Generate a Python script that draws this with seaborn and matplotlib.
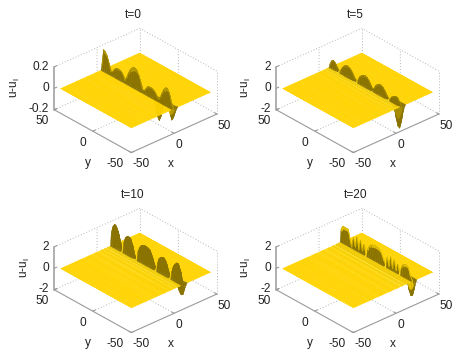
import numpy as np
import matplotlib
matplotlib.use("Agg")
import matplotlib.pyplot as plt
import seaborn as sns

sns.set_style("white")
plt.rcParams["font.family"] = ["Liberation Sans", "DejaVu Sans"]
plt.rcParams["mathtext.fontset"] = "custom"
plt.rcParams["mathtext.rm"] = "Liberation Sans"

W, H = 457, 353

titles = ["t=0", "t=5", "t=10", "t=20"]
z_max = [0.2, 2, 2, 2]
z_labels = [["-0.2", "0", "0.2"], ["-2", "0", "2"], ["-2", "0", "2"], ["-2", "0", "2"]]
xy_labels = ["-50", "0", "50"]
front_x = [2, 9, 13, 22]
rear_colours = ["#B89B00", "#A88E00", "#8A7300", "#E6C200"]

# along the front, y=46 .. y=-46
y_nodes = [46, 43.7, 41.4, 39.1, 36.8, 34.5, 32.2, 29.9, 27.6, 25.3, 23, 20.7, 18.4, 16.1,
           13.8, 11.5, 9.2, 6.9, 4.6, 2.3, 0, -2.3, -4.6, -6.9, -9.2, -11.5, -13.8, -16.1,
           -18.4, -20.7, -23, -25.3, -27.6, -29.9, -32.2, -34.5, -36.8, -39.1, -41.4, -43.7, -46]

hump_t0 = [.05, .2, .19, .16, .1, .03, .04, .07, .09, .095, .095, .09, .06, .02, .06, .11, .15, .175, .19, .19,
           .175, .14, .08, .02, .03, .06, .085, .09, .09, .085, .07, .04, .02, .05, .1, .14, .165, .17, .14, .06, .02]
hump_t5 = [.3, .7, .85, .7, .35, .05, .25, .6, .85, 1.0, 1.05, 1.0, .85, .55, .2, .05, .35, .7, .9, 1.0,
           1.05, 1.0, .8, .45, .08, .35, .7, .9, 1.0, 1.0, .9, .65, .3, .05, .2, .45, .6, .7, .7, .4, .05]
hump_t10 = [1.2, 1.9, 2.2, 2.1, 1.7, .9, .05, .9, 1.5, 1.7, 1.75, 1.7, 1.2, .3, .05, .8, 1.3, 1.6, 1.7, 1.75,
            1.75, 1.7, 1.6, 1.2, .6, .05, .7, 1.3, 1.5, 1.6, 1.6, 1.35, .7, .05, .6, 1.3, 1.6, 1.8, 1.8, 1.3, .2]
hump_t20 = [1.2, 1.6, 1.6, 1.6, 1.6, .7, .1, 1.1, .3, 1.3, .2, 1.2, .3, 1.0, .05, .7, 1.1, 1.3, 1.4, 1.45,
            1.45, 1.4, 1.3, 1.0, .5, .05, 1.0, .2, 1.2, .2, 1.1, .2, .9, .05, .8, 1.1, 1.25, 1.25, 1.1, .4, .05]
heights = [hump_t0, hump_t5, hump_t10, hump_t20]

dip_t0 = [0] * 29 + [-.1, -.17, -.2, -.15, -.05, 0, 0, 0, -.08, -.13, -.1, -.04]
dip_t5 = [0] * 33 + [-.2, -.4, -.8, -1.6, -2.2, -2.3, -1.6, -.5]
dip_t10 = [0] * 33 + [0, 0, -.2, -.6, -1.0, -1.2, -1.1, -.5]
dip_t20 = [0] * 33 + [0, 0, 0, -.5, -1.2, -1.6, -1.5, -.8]
dips = [dip_t0, dip_t5, dip_t10, dip_t20]

# across the front, distance from the front
x_rel = [-100, -80, -60, -50, -42, -36, -30, -25, -21, -17, -14, -11, -9, -7, -5, -4, -3, -2, -1, 0,
         1, 2, 3, 4, 6, 9, 13, 18, 24, 32, 42, 60, 80, 100]
wall_up = [0] * 19 + [1, .8, 0, 0, 0] + [0] * 10
wall_dn = [0] * 21 + [.6, 1, .6, 0] + [0] * 9
wake_t0 = [0] * 34
wake_t5 = [0] * 10 + [-.004, .004, -.006, .006, -.01, .01, -.016, .012, 0, 0] + [0] * 14
wake_t10 = [0, 0, 0, 0, 0, .002, -.002, .004, -.004, .006, -.006, .008, -.008, .01, -.016, .016, -.02, .016, 0, 0] + [0] * 14
wake_t20 = [.002, -.002, .002, -.002, .004, -.004, .004, -.006, .006, -.006, .008, -.01, .012, -.016, .02, -.024, .03, -.04, .03, 0] + [0] * 14
wakes = [wake_t0, wake_t5, wake_t10, wake_t20]

# axes centre in pixels, pixel places of the labels relative to that
centres = [(133, 93), (355, 93), (133, 273), (355, 273)]
u_label_x = [15, 246, 25, 246]
z_label_right = [49, 271, 49, 271]

surface_cmap = sns.blend_palette(["#FFE93A", "#FFD400", "#EFC800"], as_cmap=True)
wall_colour = matplotlib.colors.to_rgba("#8A7300")
box_grey = "#9a9a9a"

fig = plt.figure(figsize=(W / 100, H / 100), dpi=100)


def put(x, y, s, **kw):
    kw.setdefault("ha", "center")
    fig.text(x / W, 1 - y / H, s, va="center", fontsize=8.6, color="#222222", **kw)


for k in range(4):
    cx, cy = centres[k]
    ax = fig.add_axes([(cx - 110) / W, 1 - (cy + 95) / H, 220 / W, 190 / H], projection="3d", proj_type="ortho")
    ax.computed_zorder = False
    ax.view_init(elev=30, azim=-132)
    ax.set_box_aspect((1, 1, 0.43), zoom=0.87)
    ax.set_xlim(-50, 50)
    ax.set_ylim(-50, 50)
    zm = z_max[k]
    ax.set_zlim(-zm, zm)
    ax.set_axis_off()
    ax.patch.set_alpha(0)

    # box
    solid = dict(color=box_grey, lw=0.8, zorder=1)
    dotted = dict(color="#b5b5b5", lw=0.7, ls=(0, (1, 2)), zorder=1)
    ax.plot([-50, -50, 50], [50, -50, -50], [-zm, -zm, -zm], **solid)
    ax.plot([-50, -50], [50, 50], [-zm, zm], color=box_grey, lw=1.1, zorder=1)
    ax.plot([-50, 50, 50], [50, 50, -50], [-zm, -zm, -zm], **dotted)
    ax.plot([-50, 50, 50], [50, 50, -50], [zm, zm, zm], **dotted)
    ax.plot([50, 50], [50, 50], [-zm, zm], **dotted)
    ax.plot([50, 50], [-50, -50], [-zm, zm], **dotted)
    ax.plot([0, 0, 0], [-50, 50, 50], [-zm, -zm, zm], **dotted)
    ax.plot([-50, 50, 50], [0, 0, 0], [-zm, -zm, zm], **dotted)
    for t in [-50, 0, 50]:
        ax.plot([t, t], [-50, -47], [-zm, -zm], **solid)
        ax.plot([-50, -47], [t, t], [-zm, -zm], **solid)
    for t in [-zm, 0, zm]:
        ax.plot([-50, -47], [50, 50], [t, t], **solid)

    # surface
    X0 = np.clip(np.array(x_rel, dtype=float) + front_x[k], -46, 46)
    Y0 = np.array(y_nodes)
    X, Y = np.meshgrid(X0, Y0)
    Z = (np.outer(heights[k], wall_up) + np.outer(dips[k], wall_dn)
         + np.outer(np.ones(len(Y0)), np.array(wakes[k]) * zm))
    Zn = Z / zm
    slope = np.zeros_like(Z)
    dx = np.maximum(np.diff(X, axis=1), 0.5)
    slope[:, :-1] = np.diff(Zn, axis=1) / dx
    colors = surface_cmap(np.clip(slope / 0.02, -1, 1) * 0.5 + 0.5)
    # the face towards the viewer is olive, the far side depends on the panel
    cell_max = np.abs(Z).copy()
    cell_max[:, :-1] = np.maximum(np.abs(Z[:, :-1]), np.abs(Z[:, 1:]))
    rel = np.array(x_rel)
    front_face = np.zeros_like(Z, dtype=bool)
    front_face[:, rel == -1] = True
    rear_face = np.zeros_like(Z, dtype=bool)
    rear_face[:, (rel >= 0) & (rel < 2)] = True
    dip_face = np.zeros_like(Z, dtype=bool)
    dip_face[:, (rel >= 2) & (rel < 6)] = True
    colors[(cell_max > 0.03 * zm) & rear_face] = matplotlib.colors.to_rgba(rear_colours[k])
    colors[(cell_max > 0.03 * zm) & front_face] = wall_colour
    colors[(cell_max > 0.03 * zm) & dip_face] = wall_colour
    surf = ax.plot_surface(X, Y, Z, facecolors=colors, rstride=1, cstride=1, shade=False,
                           linewidth=0.25, antialiased=True, zorder=2)
    surf.set_edgecolor(colors[:-1, :-1].reshape(-1, 4))

    # text
    dy = cy - 93
    put(133 if k in (0, 2) else 355.5, 15 + dy, titles[k])
    for lab, yy in zip(z_labels[k], [109, 88, 67]):
        put(z_label_right[k], yy + dy, lab, ha="right")
    put(u_label_x[k], 88 + dy, "u-u$_{\\mathrm{l}}$", rotation=90)
    off = 0 if k in (0, 2) else 222
    for lab, (px, py) in zip(xy_labels, [(115, 164), (83, 143), (42, 121)]):
        put(px + off, py + dy, lab)
    for lab, (px, py) in zip(xy_labels, [(141, 164), (179, 145), (224, 126)]):
        put(px + off, py + dy, lab)
    put(88 + off, 163 + dy, "y")
    put(171 + off, 164 + dy, "x")

fig.savefig("out.png", dpi=100)
